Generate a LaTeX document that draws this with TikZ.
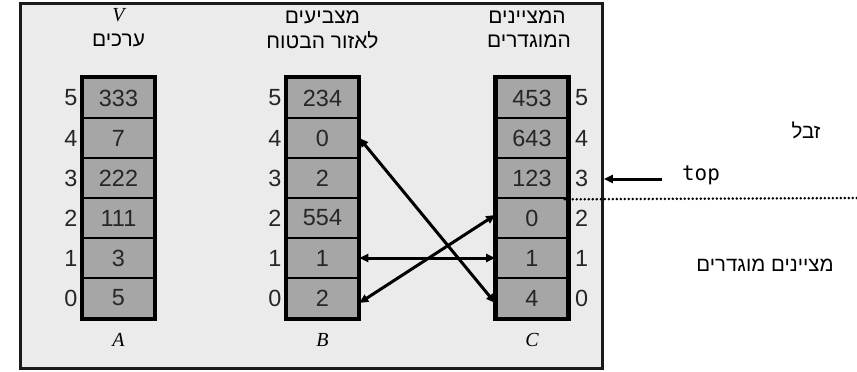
\documentclass[tikz,border=0pt]{standalone}
\usepackage{fontspec}
\setmainfont{Liberation Sans}
\newfontfamily\hebfont[Script=Hebrew]{Liberation Sans}
\newfontfamily\codefont{DejaVu Sans Mono}
\newfontfamily\namefont{Liberation Serif}
\TeXXeTstate=1
\usetikzlibrary{arrows.meta}
\definecolor{panelgray}{HTML}{EBEBEB}
\definecolor{cellgray}{HTML}{A6A6A6}
\definecolor{framecol}{HTML}{1A1A1A}
\newcommand{\heb}[1]{{\hebfont\beginR #1\endR}}

\begin{document}
\begin{tikzpicture}[x=1bp,y=-1bp,
  cell/.style={draw=black, fill=cellgray, line width=2.6bp, minimum width=71bp,
    minimum height=40bp, inner sep=0pt, text=black!85, font=\fontsize{23.5}{26}\selectfont},
  idx/.style={inner sep=0pt, text=black!85, font=\fontsize{23.5}{26}\selectfont},
  hdr/.style={inner sep=0pt, font=\fontsize{21}{24}\selectfont},
  namelbl/.style={inner sep=0pt, font=\namefont\itshape\fontsize{20}{22}\selectfont},
  outline/.style={draw=black, line width=4bp},
  tip/.tip={Triangle[length=9bp,width=8bp]},
  link/.style={line width=3bp, tip-tip},
  pointer/.style={line width=3bp, -tip},
  sidelbl/.style={inner sep=0pt, font=\fontsize{20.5}{23}\selectfont}]

% canvas
\useasboundingbox (0,0) rectangle (857,371);

% grey panel holding the three arrays
\node[draw=framecol, fill=panelgray, line width=2.8bp, minimum width=582bp,
  minimum height=365bp, inner sep=0pt] (frame) at (311.5,186) {};

% array A (values)
\foreach \v [count=\n from 0] in {5,3,111,222,7,333}{
  \node[cell] (A\n) at (118.5,{298-40*\n}) {\v};
  \node[idx, anchor=east] (iA\n) at ([xshift=-4bp]A\n.west) {\n};
}
\draw[outline] (A5.north west) rectangle (A0.south east);

% array B (pointers into the safe area)
\foreach \v [count=\n from 0] in {2,1,554,2,0,234}{
  \node[cell] (B\n) at (322.5,{298-40*\n}) {\v};
  \node[idx, anchor=east] (iB\n) at ([xshift=-4bp]B\n.west) {\n};
}
\draw[outline] (B5.north west) rectangle (B0.south east);

% array C (defined indices)
\foreach \v [count=\n from 0] in {4,1,0,123,643,453}{
  \node[cell] (C\n) at (532,{298-40*\n}) {\v};
  \node[idx, anchor=west] (iC\n) at ([xshift=6bp]C\n.east) {\n};
}
\draw[outline] (C5.north west) rectangle (C0.south east);

% headers
\node[namelbl] (hV) at (118.5,15) {V};
\node[hdr] (hA) at (118.5,40) {\heb{ערכים}};
\node[hdr] (hB1) at (322.5,17) {\heb{מצביעים}};
\node[hdr] (hB2) at (322.5,40) {\heb{לאזור הבטוח}};
\node[hdr] (hC1) at (527,17) {\heb{המציינים}};
\node[hdr] (hC2) at (529,41) {\heb{המוגדרים}};

% array names
\node[namelbl] (nA) at (118.5,340) {A};
\node[namelbl] (nB) at (322.5,340) {B};
\node[namelbl] (nC) at (532,340) {C};

% two-way links between B and C
\draw[link] (B4.east) -- ([yshift=-5bp]C0.west);
\draw[link] (B1.east) -- (C1.west);
\draw[link] ([yshift=-5bp]B0.east) -- ([yshift=3bp]C2.west);

% top pointer and the boundary below it
\node[inner sep=0pt, font=\codefont\fontsize{21}{23}\selectfont] (toplbl) at (701,175) {top};
\coordinate (topTail) at (662,179);
\draw[pointer] (topTail) -- (frame.east |- topTail);
\coordinate (dotEnd) at (857,198);
\draw[line width=2.8bp, line cap=round, dash pattern=on 0bp off 4bp] ([xshift=-4bp]C3.south east) -- (dotEnd);

% side notes
\node[sidelbl] (junk) at (806,130) {\heb{זבל}};
\node[sidelbl] (defd) at (765,265) {\heb{מציינים מוגדרים}};
\end{tikzpicture}
\end{document}
